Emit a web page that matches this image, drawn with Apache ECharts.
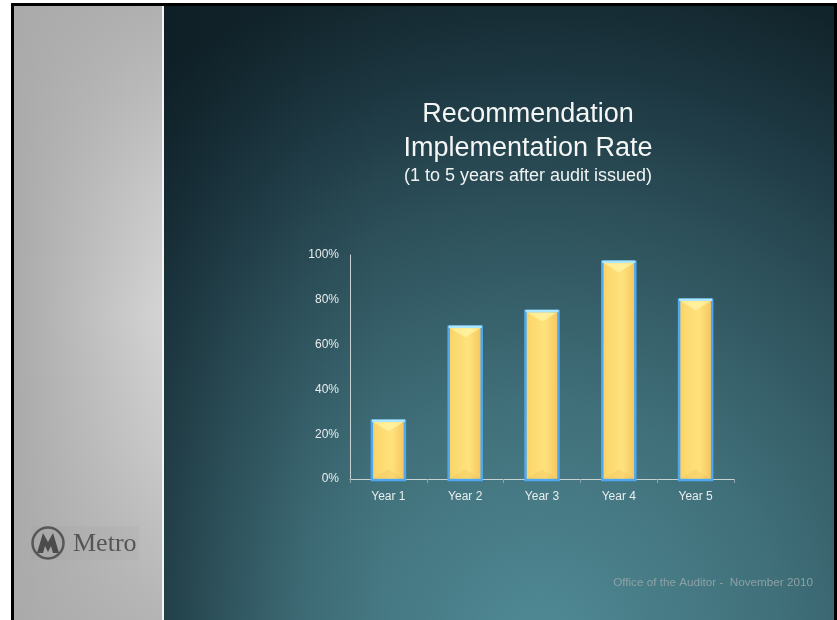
<!DOCTYPE html>
<html>
<head>
<meta charset="utf-8">
<title>Recommendation Implementation Rate</title>
<script src="https://cdn.jsdelivr.net/npm/echarts@6/dist/echarts.min.js"></script>
<style>
  html, body { margin: 0; padding: 0; background: #ffffff; }
  #chart { width: 837px; height: 620px; }
</style>
</head>
<body>
<div id="chart"></div>
<script>
// Share of audit recommendations implemented, by years after the audit was issued
const categories = ['Year 1', 'Year 2', 'Year 3', 'Year 4', 'Year 5'];
const rates = [26, 68, 75, 97, 80];
const yTickValues = [0, 20, 40, 60, 80, 100];
const yTickLabels = ['0%', '20%', '40%', '60%', '80%', '100%'];

const titleLines = ['Recommendation', 'Implementation Rate'];
const subtitle = '(1 to 5 years after audit issued)';
const footer = 'Office of the Auditor -  November 2010';

const chart = echarts.init(document.getElementById('chart'), null, { renderer: 'canvas' });

// Golden bar with a blue rim and a soft bevel on top and bottom
function renderBar(params, api) {
  const idx = api.value(0);
  const val = api.value(1);
  const top = api.coord([idx, val]);
  const base = api.coord([idx, 0]);
  const w = api.size([1, 0])[0] * 0.43;
  const l = top[0] - w / 2;
  const r = top[0] + w / 2;
  const t = top[1];
  const b = base[1] + 1;
  const cx = top[0];
  const bev = w * 0.32;
  return {
    type: 'group',
    children: [
      {
        type: 'rect',
        shape: { x: l, y: t, width: w, height: b - t },
        style: {
          fill: new echarts.graphic.LinearGradient(0, 0, 1, 0, [
            { offset: 0, color: '#f8cd62' },
            { offset: 0.2, color: '#fcd96f' },
            { offset: 0.6, color: '#ffe27d' },
            { offset: 1, color: '#f3c25a' }
          ]),
          stroke: '#4fa8ef',
          lineWidth: 2.5
        }
      },
      {
        type: 'polygon',
        shape: { points: [[l + 1.5, t + 1.5], [r - 1.5, t + 1.5], [cx, t + bev]] },
        style: { fill: 'rgba(255,246,170,0.7)' }
      },
      {
        type: 'polygon',
        shape: { points: [[l + 1.5, b - 1.5], [r - 1.5, b - 1.5], [cx, b - bev]] },
        style: { fill: 'rgba(225,165,60,0.18)' }
      },
      {
        type: 'line',
        shape: { x1: l, y1: t, x2: r, y2: t },
        style: { stroke: '#aee8ff', lineWidth: 2.5 }
      }
    ]
  };
}

const option = {
  animation: false,
  backgroundColor: '#ffffff',
  grid: { left: 350, right: 103, top: 255, bottom: 141, containLabel: false },
  graphic: [
    // page frame
    { type: 'rect', silent: true, z: -10, shape: { x: 11, y: 3, width: 826, height: 617 }, style: { fill: '#000000' } },
    // grey side panel
    { type: 'rect', silent: true, z: -9, shape: { x: 14, y: 6, width: 148, height: 614 },
      style: { fill: new echarts.graphic.LinearGradient(0, 0, 1, 0, [
        { offset: 0, color: '#aaaaaa' }, { offset: 1, color: '#d4d4d4' }
      ]) } },
    { type: 'rect', silent: true, z: -8, shape: { x: 14, y: 6, width: 148, height: 614 },
      style: { fill: new echarts.graphic.LinearGradient(0, 0, 0, 1, [
        { offset: 0, color: 'rgba(170,170,170,0.85)' },
        { offset: 0.3, color: 'rgba(170,170,170,0.25)' },
        { offset: 0.5, color: 'rgba(170,170,170,0)' },
        { offset: 0.72, color: 'rgba(170,170,170,0.25)' },
        { offset: 1, color: 'rgba(170,170,170,0.75)' }
      ]) } },
    // white divider
    { type: 'rect', silent: true, z: -8, shape: { x: 162, y: 6, width: 2, height: 614 }, style: { fill: '#f4f4f4' } },
    // teal slide background
    { type: 'rect', silent: true, z: -9, shape: { x: 164, y: 6, width: 670, height: 614 },
      style: { fill: new echarts.graphic.RadialGradient(0.56, 1.04, 1.12, [
        { offset: 0, color: '#508a95' },
        { offset: 0.35, color: '#40707a' },
        { offset: 0.62, color: '#2e525c' },
        { offset: 0.84, color: '#1c3640' },
        { offset: 1, color: '#12242b' }
      ]) } },
    { type: 'rect', silent: true, z: -8, shape: { x: 164, y: 6, width: 220, height: 614 },
      style: { fill: new echarts.graphic.LinearGradient(0, 0, 1, 0, [
        { offset: 0, color: 'rgba(10,24,32,0.4)' },
        { offset: 0.3, color: 'rgba(10,24,32,0.2)' },
        { offset: 0.65, color: 'rgba(10,24,32,0.06)' },
        { offset: 1, color: 'rgba(10,24,32,0)' }
      ]) } },
    // title
    { type: 'text', silent: true, x: 528, y: 114.5,
      style: { text: titleLines[0], fill: '#f4f6f6', font: '27px "Liberation Sans", Arial, sans-serif', align: 'center', verticalAlign: 'middle' } },
    { type: 'text', silent: true, x: 528, y: 149,
      style: { text: titleLines[1], fill: '#f4f6f6', font: '27px "Liberation Sans", Arial, sans-serif', align: 'center', verticalAlign: 'middle' } },
    { type: 'text', silent: true, x: 528, y: 176,
      style: { text: subtitle, fill: '#f0f3f3', font: '18px "Liberation Sans", Arial, sans-serif', align: 'center', verticalAlign: 'middle' } },
    // footer
    { type: 'text', silent: true, x: 813, y: 583,
      style: { text: footer, fill: '#8da1a6', font: '11.7px "Liberation Sans", Arial, sans-serif', align: 'right', verticalAlign: 'middle' } },
    // Metro logo
    { type: 'rect', silent: true, shape: { x: 31, y: 526, width: 108, height: 34 }, style: { fill: 'rgba(150,150,150,0.12)' } },
    { type: 'circle', silent: true, shape: { cx: 48, cy: 543, r: 15.5 }, style: { fill: '#a9a9a9', stroke: '#575757', lineWidth: 2.5 } },
    { type: 'polygon', silent: true,
      shape: { points: [[37, 553], [43, 533], [48, 542], [53, 533], [59, 553], [53, 553], [51, 546], [48, 552], [45, 546], [43, 553]] },
      style: { fill: '#4c4c4c' } },
    { type: 'text', silent: true, x: 73, y: 544,
      style: { text: 'Metro', fill: '#555555', font: '26px "Liberation Serif", "Times New Roman", serif', align: 'left', verticalAlign: 'middle' } }
  ],
  xAxis: {
    type: 'category',
    data: categories,
    boundaryGap: true,
    axisLine: { show: true, lineStyle: { color: '#c9d2d3', width: 1 } },
    axisTick: { show: true, length: 4, lineStyle: { color: '#8fa6aa' } },
    axisLabel: { color: '#e8eded', fontSize: 12, fontFamily: '"Liberation Sans", Arial, sans-serif', margin: 12 },
    splitLine: { show: false }
  },
  yAxis: {
    type: 'value',
    min: 0,
    max: 100,
    interval: 20,
    axisLine: { show: true, lineStyle: { color: '#c9d2d3', width: 1 } },
    axisTick: { show: false },
    axisLabel: {
      color: '#e8eded', fontSize: 12, fontFamily: '"Liberation Sans", Arial, sans-serif', margin: 11,
      formatter: v => yTickLabels[yTickValues.indexOf(v)]
    },
    splitLine: { show: false }
  },
  series: [{
    type: 'custom',
    renderItem: renderBar,
    encode: { x: 0, y: 1 },
    data: categories.map((c, i) => [i, rates[i]]),
    z: 3
  }]
};

chart.setOption(option);
</script>
</body>
</html>
